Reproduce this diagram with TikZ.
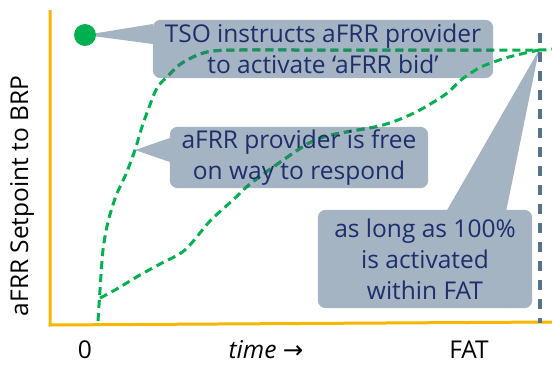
\documentclass[tikz,border=0pt]{standalone}
\usepackage{fontspec}
\setmainfont{Open Sans}
\newfontfamily\symfont{DejaVu Sans}
\usetikzlibrary{calc}
\definecolor{axisorange}{RGB}{247,182,0}
\definecolor{curvegreen}{RGB}{0,176,80}
\definecolor{curveteal}{RGB}{34,140,98}
\definecolor{boxgrey}{RGB}{165,180,194}
\definecolor{textnavy}{RGB}{28,46,108}
\definecolor{fatline}{RGB}{84,114,138}
\pgfdeclarelayer{back}
\pgfdeclarelayer{mid}
\pgfsetlayers{back,mid,main}
\tikzset{
  calloutbox/.style={inner sep=0pt, align=center, text=textnavy,
    font=\fontsize{24.5}{31}\selectfont},
  boxfill/.style={fill=boxgrey, rounded corners=8pt},
  axislabel/.style={inner sep=0pt, text=black, font=\fontsize{24.5}{28}\selectfont},
  curve/.style={line width=3pt, dash pattern=on 8pt off 5pt},
  axisline/.style={draw=axisorange, line width=3pt},
}
\begin{document}
\begin{tikzpicture}[x=1pt,y=-1pt]
\useasboundingbox (0,0) rectangle (552,365);
% axes
\coordinate (origin) at (50,325);
\coordinate (ytop) at (50,10);
\coordinate (xend) at (552,322);
\draw[axisline] (ytop) -- (origin) -- (xend);
% FAT line
\coordinate (fattop) at (540,33);
\coordinate (fatbot) at (540,323);
\draw[draw=fatline, line width=4pt, dash pattern=on 10pt off 9pt] (fattop) -- (fatbot);
% dot
\node[circle, fill=curvegreen, minimum size=22pt, inner sep=0pt] (dot) at (85,35) {};
\coordinate (meet) at (539,50);
% callout texts
\node[calloutbox, minimum width=340pt, minimum height=58pt] (c1) at (323,49)
  {TSO instructs aFRR provider\\to activate ‘aFRR bid’};
\node[calloutbox, minimum width=258pt, minimum height=61pt] (c2) at (299,157.5)
  {aFRR provider is free\\on way to respond};
\node[calloutbox, minimum width=214pt, minimum height=98pt] (c3) at (425,259)
  {as long as 100\%\\is activated\\within FAT};
\coordinate (tip2) at (135,150);
\coordinate (b3l) at (446,212);
\coordinate (b3r) at (506,212);
% boxes
\begin{pgfonlayer}{back}
  \fill[boxfill] (c1.south west) rectangle (c1.north east);
  \fill[boxgrey] (c1.west |- 0,24) -- (dot.center) -- (c1.west |- 0,44) -- cycle;
  \fill[boxfill] (c2.south west) rectangle (c2.north east);
  \fill[boxgrey] (c2.west |- 0,138) -- (tip2) -- (c2.west |- 0,162) -- cycle;
  \fill[boxfill] (c3.south west) rectangle (c3.north east);
  \fill[boxgrey] (b3l) -- (meet) -- (b3r) -- cycle;
\end{pgfonlayer}
% curves
\def\curveone{plot[smooth, tension=0.55] coordinates {(98,321) (100,290) (103,250) (108,222) (116,196) (126,174) (135,150) (141,130) (148,110) (157,88) (167,77) (182,63) (207,52) (240,50) (300,50) (420,50) (539,50) (552,48)}}
\def\curvetwo{plot[smooth, tension=0.5] coordinates {(100,298) (115,290) (140,275) (160,264) (185,250) (210,221) (233,200) (250,184) (276,165) (309,143) (331,135) (383,125) (416,112) (446,94) (461,80) (481,67) (509,57) (539,50)}}
\begin{pgfonlayer}{mid}
  \draw[curve, draw=curvegreen] \curveone;
  \draw[curve, draw=curvegreen] \curvetwo;
  \begin{scope}
    \clip[rounded corners=8pt] (c1.south west) rectangle (c1.north east);
    \draw[curve, draw=curveteal] \curveone;
  \end{scope}
  \begin{scope}
    \clip[rounded corners=8pt] (c2.south west) rectangle (c2.north east);
    \draw[curve, draw=curveteal] \curvetwo;
  \end{scope}
\end{pgfonlayer}
% axis labels
\node[axislabel] (zero) at (85,350) {0};
\node[axislabel] (time) at (266,350) {\textit{time} {\symfont →}};
\node[axislabel] (fat) at (469,350) {FAT};
\node[axislabel, rotate=90] (ylab) at (22,196) {aFRR Setpoint to BRP};
\end{tikzpicture}
\end{document}
